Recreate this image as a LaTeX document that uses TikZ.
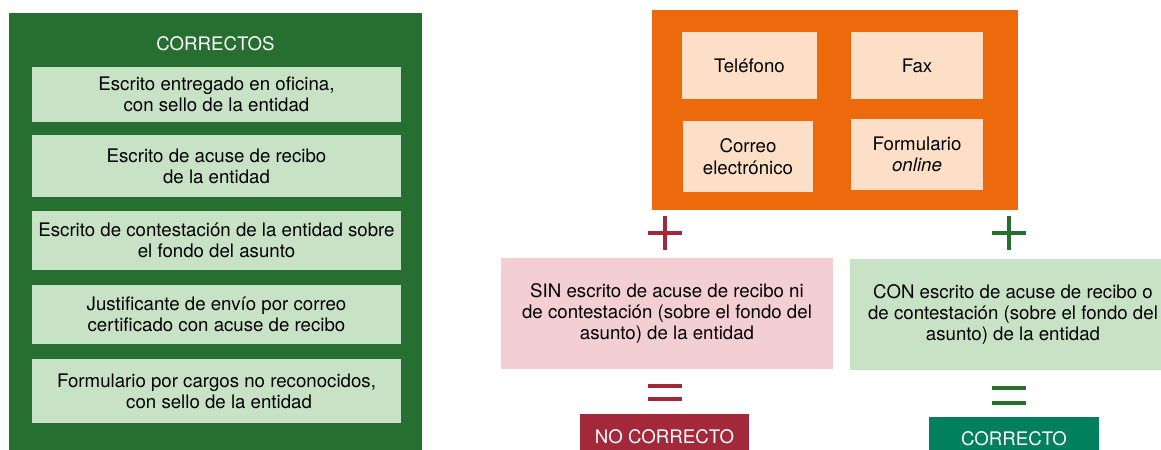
\documentclass[tikz,border=0pt]{standalone}
\usepackage{fontspec}
\setmainfont{TeX Gyre Heros}
\definecolor{panelgreen}{HTML}{276E31}
\definecolor{lightgreen}{HTML}{C8E2C6}
\definecolor{orangepanel}{HTML}{EC690C}
\definecolor{peach}{HTML}{FDDFC7}
\definecolor{pinkbox}{HTML}{F3CED3}
\definecolor{crimson}{HTML}{A3283A}
\definecolor{tealgreen}{HTML}{00805C}
\newcommand\pxl{0.75pt}
\begin{document}
\begin{tikzpicture}[x=0.75pt,y=-0.75pt,
    txt/.style={font=\fontsize{14}{16}\selectfont, align=center, inner sep=0pt},
    cbox/.style={txt, fill=#1},
    signline/.style={draw=#1, line width=3.2*\pxl}]
    \useasboundingbox (0,0) rectangle (1161,450);
    \clip (0,0) rectangle (1161,450);

    % left panel
    \fill[panelgreen] (9,13) rectangle (422,460);
    \node[txt, text=white] (title) at (215.5,44) {CORRECTOS};
    \node[cbox=lightgreen, minimum width=369*\pxl, minimum height=55*\pxl] (oficina) at (216.5,94.5) {Escrito entregado en oficina,\\con sello de la entidad};
    \node[cbox=lightgreen, minimum width=369*\pxl, minimum height=62*\pxl] (acuse) at (216.5,166) {Escrito de acuse de recibo\\de la entidad};
    \node[cbox=lightgreen, minimum width=369*\pxl, minimum height=59*\pxl] (contest) at (216.5,240.5) {Escrito de contestación de la entidad sobre\\el fondo del asunto};
    \node[cbox=lightgreen, minimum width=369*\pxl, minimum height=59*\pxl] (envio) at (216.5,314.5) {Justificante de envío por correo\\certificado con acuse de recibo};
    \node[cbox=lightgreen, minimum width=369*\pxl, minimum height=64*\pxl] (formcargos) at (216.5,391) {Formulario por cargos no reconocidos,\\\ con sello de la entidad};

    % channels
    \node[fill=orangepanel, minimum width=366*\pxl, minimum height=200*\pxl, inner sep=0pt] (canales) at (835,110) {};
    \node[cbox=peach, minimum width=135*\pxl, minimum height=67*\pxl] (tel) at (749.5,65.5) {Teléfono};
    \node[cbox=peach, minimum width=132*\pxl, minimum height=67*\pxl] (fax) at (917,65.5) {Fax};
    \node[cbox=peach, minimum width=130*\pxl, minimum height=71*\pxl] (correo) at (748,156.5) {Correo\\electrónico};
    \node[cbox=peach, minimum width=132*\pxl, minimum height=71*\pxl] (online) at (917,154.5) {Formulario\\\textit{online}};

    % outcomes
    \node[cbox=pinkbox, minimum width=332*\pxl, minimum height=111*\pxl] (sin) at (667,313.5) {SIN escrito de acuse de recibo ni\\de contestación (sobre el fondo del\\asunto) de la entidad};
    \node[cbox=lightgreen, minimum width=326*\pxl, minimum height=111*\pxl] (con) at (1013,314.5) {CON escrito de acuse de recibo o\\de contestación (sobre el fondo del\\asunto) de la entidad};
    \node[cbox=crimson, text=white, minimum width=169*\pxl, minimum height=46*\pxl] (nocorr) at (664.5,437) {NO CORRECTO};
    \node[cbox=tealgreen, text=white, minimum width=170*\pxl, minimum height=44*\pxl] (corr) at (1014,439) {CORRECTO};

    % plus and equals signs
    \coordinate (plusno) at (665,233);
    \coordinate (plusyes) at (1009,233);
    \coordinate (eqno) at (665,392.5);
    \coordinate (eqyes) at (1009,395.5);
    \draw[signline=crimson] (plusno) ++(-17,0) -- ++(34,0) (plusno) ++(0,-17) -- ++(0,34);
    \draw[signline=panelgreen] (plusyes) ++(-17,0) -- ++(34,0) (plusyes) ++(0,-17) -- ++(0,34);
    \draw[signline=crimson] (eqno) ++(-17,-6.5) -- ++(34,0) (eqno) ++(-17,6.5) -- ++(34,0);
    \draw[signline=panelgreen] (eqyes) ++(-17,-7.5) -- ++(34,0) (eqyes) ++(-17,7.5) -- ++(34,0);
\end{tikzpicture}
\end{document}
